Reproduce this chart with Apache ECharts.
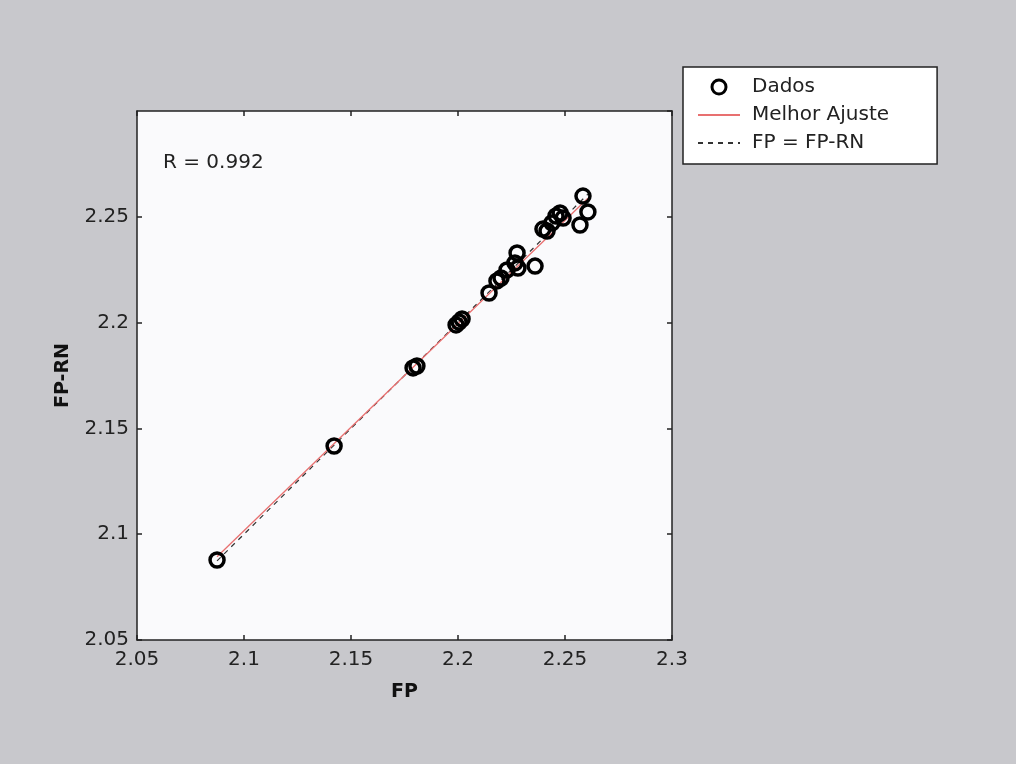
<!DOCTYPE html>
<html>
<head>
<meta charset="utf-8">
<script src="https://cdn.jsdelivr.net/npm/echarts@6/dist/echarts.min.js"></script>
<style>
html,body{margin:0;padding:0;background:#c8c8cc;}
#chart{width:1016px;height:764px;}
</style>
</head>
<body>
<div id="chart"></div>
<script>
// Data
const fpValues   = [2.0874, 2.1421, 2.1790, 2.1808, 2.1991, 2.2005, 2.2019, 2.2145, 2.2182, 2.2201, 2.2229, 2.2266, 2.2276, 2.2280, 2.2360, 2.2397, 2.2416, 2.2439, 2.2458, 2.2477, 2.2491, 2.2570, 2.2607, 2.2584];
const fprnValues = [2.0878, 2.1417, 2.1786, 2.1795, 2.1989, 2.2003, 2.2017, 2.2140, 2.2197, 2.2211, 2.2249, 2.2282, 2.2329, 2.2258, 2.2267, 2.2442, 2.2433, 2.2471, 2.2504, 2.2518, 2.2494, 2.2461, 2.2523, 2.2598];
const fitX = [2.0874, 2.2607];
const fitY = [2.0893, 2.2588];
const identityX = [2.0874, 2.2607];
const rText = 'R = 0.992';
const legendNames = ['Dados', 'Melhor Ajuste', 'FP = FP-RN'];
const xName = 'FP';
const yName = 'FP-RN';

const scatterData = fpValues.map((v, i) => [v, fprnValues[i]]);
const fitData = fitX.map((v, i) => [v, fitY[i]]);
const idData = identityX.map(v => [v, v]);

const font = '"DejaVu Sans", Arial, sans-serif';
const chart = echarts.init(document.getElementById('chart'), null, {renderer: 'canvas'});

const axisCommon = {
  type: 'value', min: 2.05, max: 2.3, interval: 0.05,
  axisLine: {show: true, onZero: false, lineStyle: {color: '#222', width: 1.5}},
  axisTick: {show: true, inside: true, length: 5, lineStyle: {color: '#222', width: 1.5}},
  splitLine: {show: false}
};

chart.setOption({
  backgroundColor: '#c8c8cc',
  animation: false,
  grid: {left: 137, top: 111, right: 344, bottom: 124, show: true, backgroundColor: '#fafafc', borderWidth: 0},
  xAxis: [
    Object.assign({}, axisCommon, {
      position: 'bottom',
      name: xName, nameLocation: 'middle', nameGap: 43,
      nameTextStyle: {fontFamily: font, fontSize: 19, fontWeight: 'bold', color: '#111'},
      axisLabel: {fontFamily: font, fontSize: 20, color: '#222', margin: 10}
    }),
    Object.assign({}, axisCommon, {position: 'top', axisLabel: {show: false}})
  ],
  yAxis: [
    Object.assign({}, axisCommon, {
      position: 'left',
      name: yName, nameLocation: 'middle', nameGap: 64, nameRotate: 90,
      nameTextStyle: {fontFamily: font, fontSize: 19, fontWeight: 'bold', color: '#111'},
      axisLabel: {fontFamily: font, fontSize: 20, color: '#222', margin: 8, showMaxLabel: false}
    }),
    Object.assign({}, axisCommon, {position: 'right', axisLabel: {show: false}})
  ],
  legend: {
    orient: 'vertical', left: 683, top: 67,
    backgroundColor: '#ffffff', borderColor: '#222', borderWidth: 1.5, borderRadius: 0,
    padding: [10, 48, 11, 14], itemGap: 8, itemWidth: 42, itemHeight: 14,
    textStyle: {fontFamily: font, fontSize: 20, color: '#222', padding: [0, 0, 0, 7]},
    data: [
      {name: legendNames[0], icon: 'circle', itemStyle: {color: '#ffffff', borderColor: '#000', borderWidth: 3}},
      {name: legendNames[1], itemStyle: {opacity: 0}},
      {name: legendNames[2], itemStyle: {opacity: 0}}
    ]
  },
  graphic: [{
    type: 'text', left: 163, top: 153,
    style: {text: rText, font: '20px ' + font, fill: '#222'}
  }],
  series: [
    {
      name: legendNames[2], type: 'line', data: idData, symbol: 'none',
      itemStyle: {color: '#333'},
      lineStyle: {color: '#333', width: 1.2, type: [5, 5]}, z: 2
    },
    {
      name: legendNames[1], type: 'line', data: fitData, symbol: 'none',
      itemStyle: {color: '#e87070'},
      lineStyle: {color: '#e87070', width: 1.3}, z: 3
    },
    {
      name: legendNames[0], type: 'scatter', data: scatterData,
      symbol: 'circle', symbolSize: 14,
      itemStyle: {color: 'rgba(255,255,255,0)', borderColor: '#000', borderWidth: 3.5, opacity: 1},
      z: 4
    }
  ]
});
</script>
</body>
</html>
